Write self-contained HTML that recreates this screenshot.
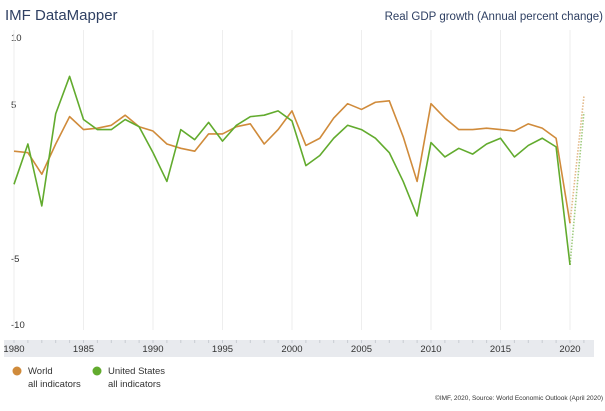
<!DOCTYPE html><html><head><meta charset="utf-8"><style>
body{margin:0;width:605px;height:406px;background:#fff;font-family:"Liberation Sans",sans-serif;overflow:hidden}
</style></head><body>
<svg id="s" width="605" height="406" xmlns="http://www.w3.org/2000/svg" font-family="Liberation Sans, sans-serif">
<text x="5" y="20" font-size="15" fill="#2f4063">IMF DataMapper</text>
<text x="603" y="20" font-size="11.5" fill="#2f4063" text-anchor="end">Real GDP growth (Annual percent change)</text>
<rect x="4" y="340" width="590" height="17" fill="#e8eaee"/>
<g font-size="9.5" fill="#333">
<text x="11" y="41">10</text><text x="11" y="108">5</text><text x="11" y="262">-5</text><text x="11" y="328">-10</text>
</g>
<g id="grid" stroke="#eeeeee" stroke-width="1"></g>
<g id="xl" font-size="9.5" fill="#333" text-anchor="middle"></g>
<g id="lines" fill="none" stroke-width="1.6" stroke-linejoin="round"></g>
<circle cx="17" cy="371" r="4.5" fill="#d08b3b"/><text x="28" y="374" font-size="9.5" fill="#333">World</text><text x="28" y="387" font-size="9.5" fill="#333">all indicators</text>
<circle cx="97" cy="371" r="4.5" fill="#62ab2e"/><text x="108" y="374" font-size="9.5" fill="#333">United States</text><text x="108" y="387" font-size="9.5" fill="#333">all indicators</text>
<text x="603" y="400" font-size="6.5" fill="#333" text-anchor="end">©IMF, 2020, Source: World Economic Outlook (April 2020)</text>
</svg>
<script>
var NS="http://www.w3.org/2000/svg";
function X(y){return 14+(y-1980)*13.9}
function Y(v){return 180-v*14.4}
var g=document.getElementById('grid'),xl=document.getElementById('xl');
for(var y=1980;y<=2020;y+=5){var l=document.createElementNS(NS,'line');l.setAttribute('x1',X(y));l.setAttribute('x2',X(y));l.setAttribute('y1',30);l.setAttribute('y2',330);g.appendChild(l);
var t=document.createElementNS(NS,'text');t.setAttribute('x',X(y));t.setAttribute('y',352);t.textContent=y;xl.appendChild(t);}
for(var y=1980;y<=2021;y++){var l=document.createElementNS(NS,'line');l.setAttribute('x1',X(y));l.setAttribute('x2',X(y));l.setAttribute('y1',340);l.setAttribute('y2',343);l.setAttribute('stroke','#c8ccd2');g.appendChild(l);}
var W=[2.0,1.9,0.4,2.5,4.4,3.5,3.6,3.8,4.5,3.7,3.4,2.5,2.2,2.0,3.2,3.2,3.7,3.9,2.5,3.5,4.8,2.4,2.9,4.3,5.3,4.9,5.4,5.5,3.0,-0.1,5.3,4.3,3.5,3.5,3.6,3.5,3.4,3.9,3.6,2.9,-3.0,5.8];
var U=[-0.3,2.5,-1.8,4.6,7.2,4.2,3.5,3.5,4.2,3.7,1.9,-0.1,3.5,2.8,4.0,2.7,3.8,4.4,4.5,4.8,4.1,1.0,1.7,2.9,3.8,3.5,2.9,1.9,-0.1,-2.5,2.6,1.6,2.2,1.8,2.5,2.9,1.6,2.4,2.9,2.3,-5.9,4.7];
var L=document.getElementById('lines');
function pl(d,c,a,b,dash){var p=[];for(var i=a;i<=b;i++)p.push(X(1980+i)+','+Y(d[i]));var e=document.createElementNS(NS,'polyline');e.setAttribute('points',p.join(' '));e.setAttribute('stroke',c);if(dash){e.setAttribute('stroke-dasharray','1.5,1.5');e.setAttribute('stroke-opacity','0.6');}L.appendChild(e);}
pl(W,'#d08b3b',0,40);pl(U,'#62ab2e',0,40);pl(W,'#d08b3b',40,41,1);pl(U,'#62ab2e',40,41,1);
</script>
</body></html>
